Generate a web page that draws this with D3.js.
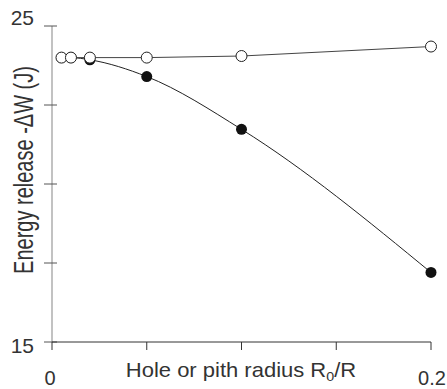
<!DOCTYPE html>
<html><head><meta charset="utf-8">
<script src="https://cdn.jsdelivr.net/npm/d3@7"></script>
<style>body{margin:0;background:#fff}svg{display:block}text{font-family:"Liberation Sans",Arial,sans-serif;fill:#333}</style>
</head><body><svg id="c" width="447" height="389"></svg>
<script>
const openX = [0.005, 0.01, 0.02, 0.05, 0.1, 0.2];
const openY = [24.0, 24.0, 24.0, 24.0, 24.05, 24.35];
const filledX = [0.005, 0.01, 0.02, 0.05, 0.1, 0.2];
const filledY = [24.0, 24.0, 23.93, 23.4, 21.73, 17.2];
const yTicks = [15, 17.5, 20, 22.5, 25];
const yLabels = [15, 25];
const xTicks = [0, 0.05, 0.1, 0.15, 0.2];
const xLabels = [0, 0.2];

const svg = d3.select("#c");
const x = d3.scaleLinear().domain([0, 0.2]).range([52, 431]);
const y = d3.scaleLinear().domain([15, 25]).range([342, 26]);

// y axis
svg.append("line").attr("x1", 52).attr("x2", 52).attr("y1", y(25)).attr("y2", y(15)).attr("stroke", "#999").attr("stroke-width", 1.2);
svg.selectAll(".yt").data(yTicks).enter().append("line")
  .attr("x1", 44).attr("x2", 57).attr("y1", d => y(d)).attr("y2", d => y(d)).attr("stroke", "#555").attr("stroke-width", 1);
svg.selectAll(".yl").data(yLabels).enter().append("text")
  .attr("x", 34).attr("y", d => d === 25 ? y(d) - 1 : y(d) + 11).attr("text-anchor", "end").attr("font-size", 21).text(d => d);

// x axis
svg.append("line").attr("x1", x(0)).attr("x2", x(0.2)).attr("y1", y(15)).attr("y2", y(15)).attr("stroke", "#333").attr("stroke-width", 1);
svg.selectAll(".xt").data(xTicks).enter().append("line")
  .attr("x1", d => x(d)).attr("x2", d => x(d)).attr("y1", y(15)).attr("y2", y(15) + 8).attr("stroke", "#333").attr("stroke-width", 1);
svg.selectAll(".xl").data(xLabels).enter().append("text")
  .attr("x", d => d === 0 ? x(d) - 2 : x(d) + 1).attr("y", 385).attr("text-anchor", "middle").attr("font-size", 20).text(d => d);

// titles
const xt = svg.append("text").attr("transform", "translate(241,377) scale(1.1,1)").attr("text-anchor", "middle").attr("font-size", 20);
xt.append("tspan").text("Hole or pith radius R");
xt.append("tspan").attr("font-size", 13).attr("dy", 4).text("0");
xt.append("tspan").attr("dy", -4).text("/R");
svg.append("text").attr("transform", "translate(33,170) scale(1.35,1) rotate(-90)").attr("text-anchor", "middle").attr("font-size", 20).text("Energy release -ΔW (J)");

// filled series
const fd = filledX.map((v, i) => [v, filledY[i]]);
svg.append("path").datum(fd).attr("fill", "none").attr("stroke", "#222").attr("stroke-width", 1)
  .attr("d", d3.line().x(d => x(d[0])).y(d => y(d[1])).curve(d3.curveMonotoneX));
svg.selectAll(".fc").data(fd).enter().append("circle")
  .attr("cx", d => x(d[0])).attr("cy", d => y(d[1])).attr("r", 5.5).attr("fill", "#111");

// open series
const od = openX.map((v, i) => [v, openY[i]]);
svg.append("path").datum(od).attr("fill", "none").attr("stroke", "#444").attr("stroke-width", 1)
  .attr("d", d3.line().x(d => x(d[0])).y(d => y(d[1])));
svg.selectAll(".oc").data(od).enter().append("circle")
  .attr("cx", d => x(d[0])).attr("cy", d => y(d[1])).attr("r", 5.5).attr("fill", "#fff").attr("stroke", "#222").attr("stroke-width", 1);
</script></body></html>
